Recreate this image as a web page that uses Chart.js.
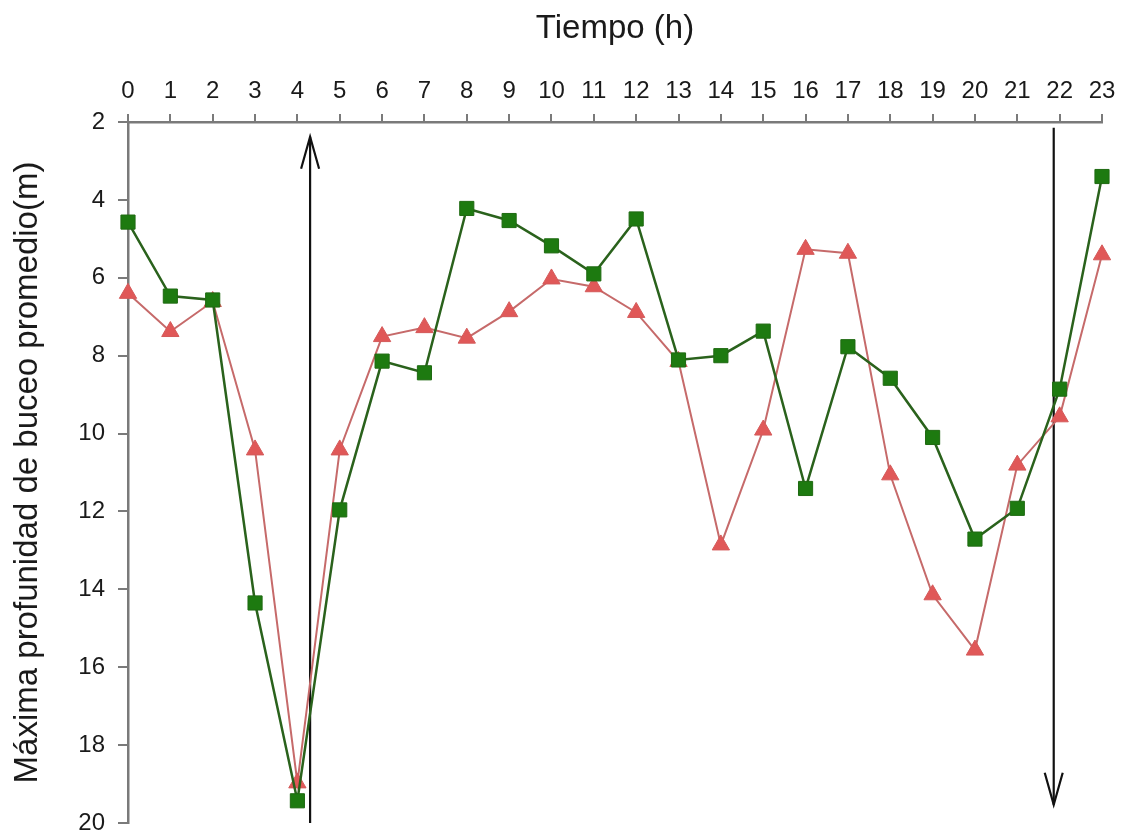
<!DOCTYPE html>
<html>
<head>
<meta charset="utf-8">
<script src="https://cdn.jsdelivr.net/npm/chart.js@4.4.1/dist/chart.umd.min.js"></script>
<style>
  html, body { margin: 0; padding: 0; background: #fff; }
  #wrap { width: 1124px; height: 835px; }
</style>
</head>
<body>
<div id="wrap"><canvas id="myChart" width="1124" height="835"></canvas></div>
<script>
/*datos*/
const horas = [0, 1, 2, 3, 4, 5, 6, 7, 8, 9, 10, 11, 12, 13, 14, 15, 16, 17, 18, 19, 20, 21, 22, 23];
const profVerde = [4.57, 6.47, 6.57, 14.35, 19.43, 11.96, 8.14, 8.44, 4.22, 4.53, 5.18, 5.9, 4.49, 8.11, 8.0, 7.37, 11.41, 7.77, 8.58, 10.1, 12.71, 11.92, 8.86, 3.4];
const profRoja = [6.4, 7.38, 6.61, 10.42, 18.97, 10.42, 7.51, 7.28, 7.55, 6.87, 6.03, 6.23, 6.89, 8.15, 12.86, 9.91, 5.27, 5.37, 11.06, 14.14, 15.56, 10.81, 9.57, 5.41];
const ticksHoras = horas;
const ticksProf = [2, 4, 6, 8, 10, 12, 14, 16, 18, 20];

/*flechas: posicion en horas y rango de profundidad (inicio, punta)*/
const flechaArribaX = 4.3;
const flechaArribaY = [20, 2.38];
const flechaAbajoX = 21.86;
const flechaAbajoY = [2.15, 19.53];

const fuente = "'Liberation Sans', Arial, sans-serif";
const grisEje = "#7a7a7a";

const flechas = {
  id: "flechas",
  beforeDatasetsDraw(chart) {
    const ctx = chart.ctx;
    const xs = chart.scales.x;
    const ys = chart.scales.y;
    [[flechaArribaX, flechaArribaY], [flechaAbajoX, flechaAbajoY]].forEach(([fx, fy]) => {
      const px = xs.getPixelForValue(fx);
      const y0 = ys.getPixelForValue(fy[0]);
      const y1 = ys.getPixelForValue(fy[1]);
      const dir = y1 < y0 ? 1 : -1;
      ctx.save();
      ctx.strokeStyle = "#111";
      ctx.lineWidth = 2.2;
      ctx.beginPath();
      ctx.moveTo(px, y0);
      ctx.lineTo(px, y1);
      ctx.stroke();
      ctx.beginPath();
      ctx.moveTo(px - 9, y1 + dir * 32);
      ctx.lineTo(px, y1);
      ctx.lineTo(px + 9, y1 + dir * 32);
      ctx.stroke();
      ctx.restore();
    });
  }
};

let ctx = document.getElementById("myChart").getContext("2d");
let myChart = new Chart(ctx, {
  type: "line",
  data: {
    datasets: [
      {
        label: "verde",
        data: horas.map((h, i) => ({ x: h, y: profVerde[i] })),
        borderColor: "#2a621c",
        backgroundColor: "#1d7a10",
        pointBorderColor: "#1f6a12",
        borderWidth: 2.5,
        pointStyle: "rect",
        pointRadius: 10,
        pointBorderWidth: 1,
        tension: 0,
        clip: false,
        order: 0,
      },
      {
        label: "roja",
        data: horas.map((h, i) => ({ x: h, y: profRoja[i] })),
        borderColor: "#c66a6a",
        backgroundColor: "#e05858",
        pointBorderColor: "#d45a5a",
        borderWidth: 2,
        pointStyle: "triangle",
        pointRadius: 10,
        pointBorderWidth: 1,
        tension: 0,
        clip: false,
        order: 1,
      },
    ],
  },
  options: {
    responsive: false,
    animation: false,
    layout: { padding: { left: 0, top: 0, right: 22, bottom: 12 } },
    plugins: {
      legend: { display: false },
      tooltip: { enabled: false },
    },
    scales: {
      x: {
        type: "linear",
        position: "top",
        min: 0,
        max: 23,
        afterBuildTicks: (scale) => {
          scale.ticks = ticksHoras.map((v) => ({ value: v }));
        },
        afterFit: (scale) => {
          scale.height = 122;
          scale.paddingLeft = 0;
          scale.paddingRight = 0;
        },
        border: { display: true, color: grisEje, width: 2.5 },
        grid: { drawOnChartArea: false, drawTicks: true, tickLength: 8, color: grisEje, lineWidth: 2 },
        ticks: { color: "#1a1a1a", padding: 8, maxRotation: 0, autoSkip: false, font: { family: fuente, size: 24 } },
        title: { display: true, text: "Tiempo (h)", color: "#1a1a1a", padding: { top: 9, bottom: 0 }, font: { family: fuente, size: 33 } },
      },
      y: {
        type: "linear",
        reverse: true,
        min: 2,
        max: 20,
        afterBuildTicks: (scale) => {
          scale.ticks = ticksProf.map((v) => ({ value: v }));
        },
        afterFit: (scale) => {
          scale.width = 128;
          scale.paddingTop = 0;
          scale.paddingBottom = 0;
        },
        border: { display: true, color: grisEje, width: 2.5 },
        grid: { drawOnChartArea: false, drawTicks: true, tickLength: 10, color: grisEje, lineWidth: 2 },
        ticks: { color: "#1a1a1a", padding: 13, autoSkip: false, font: { family: fuente, size: 24, lineHeight: 1 } },
        title: { display: true, text: "Máxima profunidad de buceo promedio(m)", color: "#1a1a1a", padding: { top: 8, bottom: 0 }, font: { family: fuente, size: 33 } },
      },
    },
  },
  plugins: [flechas],
});
</script>
</body>
</html>
